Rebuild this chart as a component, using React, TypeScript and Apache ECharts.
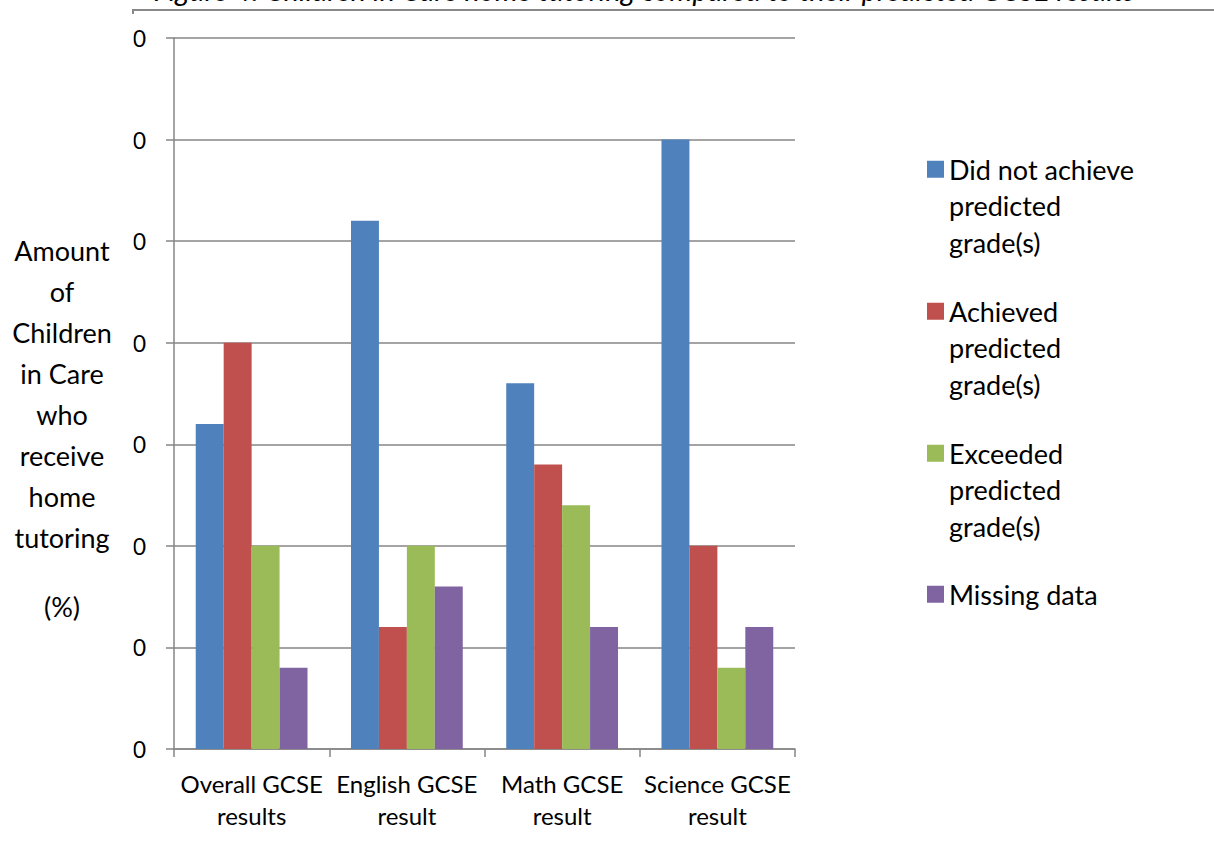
import React, { useEffect, useRef } from "react";
import * as echarts from "echarts";

const categories = ["Overall GCSE\nresults", "English GCSE\nresult", "Math GCSE\nresult", "Science GCSE\nresult"];
const seriesNames = [
  "Did not achieve predicted grade(s)",
  "Achieved predicted grade(s)",
  "Exceeded predicted grade(s)",
  "Missing data",
];
const legendLabels = [
  "Did not achieve\npredicted\ngrade(s)",
  "Achieved\npredicted\ngrade(s)",
  "Exceeded\npredicted\ngrade(s)",
  "Missing data",
];
const didNotAchieve = [32, 52, 36, 60];
const achieved = [40, 12, 28, 20];
const exceeded = [20, 20, 24, 8];
const missingData = [8, 16, 12, 12];
const colors = ["#4F81BD", "#C0504D", "#9BBB59", "#8064A2"];
const yMin = 0;
const yMax = 70;
const yInterval = 10;
const yTitle = "Amount\nof\nChildren\nin Care\nwho\nreceive\nhome\ntutoring";
const yUnit = "(%)";
const chartTitle = "Figure 4: Children in Care home tutoring compared to their predicted GCSE results";

const FONT = "Lato";

export default function App() {
  const ref = useRef<HTMLDivElement>(null);
  useEffect(() => {
    if (!ref.current) return;
    const chart = echarts.init(ref.current, undefined, { renderer: "svg" });
    const values = [didNotAchieve, achieved, exceeded, missingData];
    const legendTops = [78, 220, 362, 576];
    const labelMap: Record<string, string> = {};
    seriesNames.forEach((n, i) => {
      const lines = legendLabels[i].split("\n");
      // pad with leading empty lines so the first line sits level with the swatch
      const pad = new Array(lines.length - 1).fill("");
      labelMap[n] = [...pad, ...lines].join("\n");
    });
    const legendText = {
      fontFamily: FONT,
      fontSize: 27,
      lineHeight: 36.5,
      color: "#000",
    };
    chart.setOption({
      animation: false,
      backgroundColor: "#fff",
      color: colors,
      textStyle: { fontFamily: FONT },
      grid: { left: 174, top: 38, width: 621, height: 711, containLabel: false },
      legend: seriesNames.map((n, i) => ({
        data: [n],
        left: 927,
        top: legendTops[i],
        orient: "vertical",
        icon: "rect",
        itemWidth: 17,
        itemHeight: 17,
        padding: 0,
        selectedMode: false,
        formatter: (name: string) => labelMap[name],
        textStyle: legendText,
      })),
      xAxis: {
        type: "category",
        data: categories,
        axisLine: { lineStyle: { color: "#868686", width: 1.5 } },
        axisTick: { show: true, length: 8, alignWithLabel: false, lineStyle: { color: "#868686", width: 1.5 } },
        axisLabel: { interval: 0, fontFamily: FONT, fontSize: 24, lineHeight: 32, color: "#000", margin: 18 },
      },
      yAxis: {
        type: "value",
        min: yMin,
        max: yMax,
        interval: yInterval,
        name: yTitle,
        nameLocation: "middle",
        nameRotate: 0,
        nameGap: 112,
        nameTextStyle: {
          fontFamily: FONT,
          fontSize: 27,
          lineHeight: 41,
          color: "#000",
          align: "center",
          verticalAlign: "middle",
        },
        axisLine: { show: true, lineStyle: { color: "#868686", width: 1.5 } },
        axisTick: { show: true, length: 8, lineStyle: { color: "#868686", width: 1.5 } },
        splitLine: { show: true, lineStyle: { color: "#868686", width: 1.5 } },
        axisLabel: { fontFamily: FONT, fontSize: 23, color: "#000", margin: 28 },
      },
      series: seriesNames.map((n, i) => ({
        name: n,
        type: "bar",
        data: values[i],
        barGap: "0%",
        barCategoryGap: "28%",
        itemStyle: { color: colors[i] },
      })),
      graphic: [
        {
          type: "text",
          x: 62,
          y: 606,
          style: { text: yUnit, font: `27px ${FONT}`, fill: "#000", align: "center", verticalAlign: "middle" },
        },
        {
          type: "rect",
          shape: { x: 112, y: 20, width: 21.5, height: 745 },
          style: { fill: "#fff" },
          z: 100,
        },
        {
          type: "text",
          x: 1135,
          y: 4,
          style: {
            text: chartTitle,
            font: `italic 29px ${FONT}`,
            fill: "#000",
            align: "right",
            verticalAlign: "bottom",
          },
          z: 90,
        },
        {
          type: "polyline",
          shape: { points: [[133, 14], [133, 10], [1214, 10]] },
          style: { stroke: "#888", lineWidth: 2, fill: "none" },
          z: 101,
        },
      ],
    });
    return () => chart.dispose();
  }, []);
  return (
    <div
      ref={ref}
      style={{ position: "fixed", left: 0, top: 0, width: 1214, height: 843, background: "#fff" }}
    />
  );
}
